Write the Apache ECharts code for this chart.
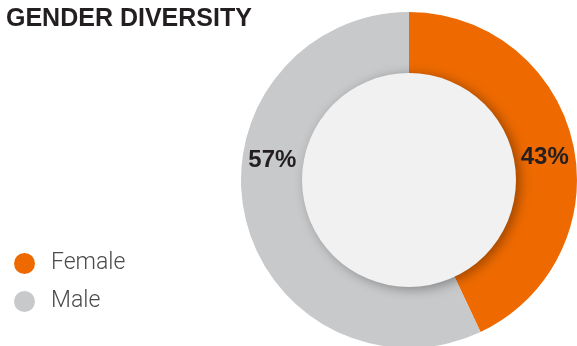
<!DOCTYPE html>
<html><head><meta charset="utf-8">
<script src="https://cdn.jsdelivr.net/npm/echarts@6/dist/echarts.min.js"></script>
<style>html,body{margin:0;padding:0;background:#fff}#c{width:577px;height:346px}</style>
</head><body><div id="c"></div>
<script>
const title = 'GENDER DIVERSITY';
const categories = ['Female', 'Male'];
const values = [43, 57];
const colors = ['#EE6A00', '#C8C9CB'];

const chart = echarts.init(document.getElementById('c'), null, {renderer: 'canvas'});
chart.setOption({
  animation: false,
  title: {
    text: title, left: 1, top: 2,
    textStyle: {fontFamily: 'Liberation Sans', fontWeight: 'bold', fontSize: 25, color: '#231F20'}
  },
  legend: {
    orient: 'vertical', left: 9, top: 247, itemGap: 15,
    icon: 'circle', itemWidth: 21, itemHeight: 21,
    data: categories,
    textStyle: {fontFamily: 'Roboto', fontWeight: 300, fontSize: 23, color: '#4a4a4a', padding: [0, 0, 0, 11]}
  },
  series: [
    {
      type: 'pie', center: [409, 180], radius: [100, 168], startAngle: 90, clockwise: true,
      silent: true,
      data: categories.map((c, i) => ({
        name: c, value: values[i], itemStyle: {color: colors[i]},
        label: i === 1 ? {offset: [-3, -50]} : {offset: [2, 7]}
      })),
      label: {
        show: true, position: 'inside',
        formatter: p => p.value + '%',
        fontFamily: 'Liberation Sans', fontWeight: 'bold', fontSize: 24, color: '#231F20'
      },
      labelLine: {show: false}
    },
    {
      type: 'pie', center: [409, 180], radius: [0, 107], silent: true,
      label: {show: false}, labelLine: {show: false},
      itemStyle: {color: '#F1F1F1', shadowBlur: 12, shadowOffsetX: 4, shadowOffsetY: 2, shadowColor: 'rgba(0,0,0,0.35)'},
      data: [{value: 1, name: 'inner'}],
      legendHoverLink: false
    }
  ]
});
</script></body></html>
